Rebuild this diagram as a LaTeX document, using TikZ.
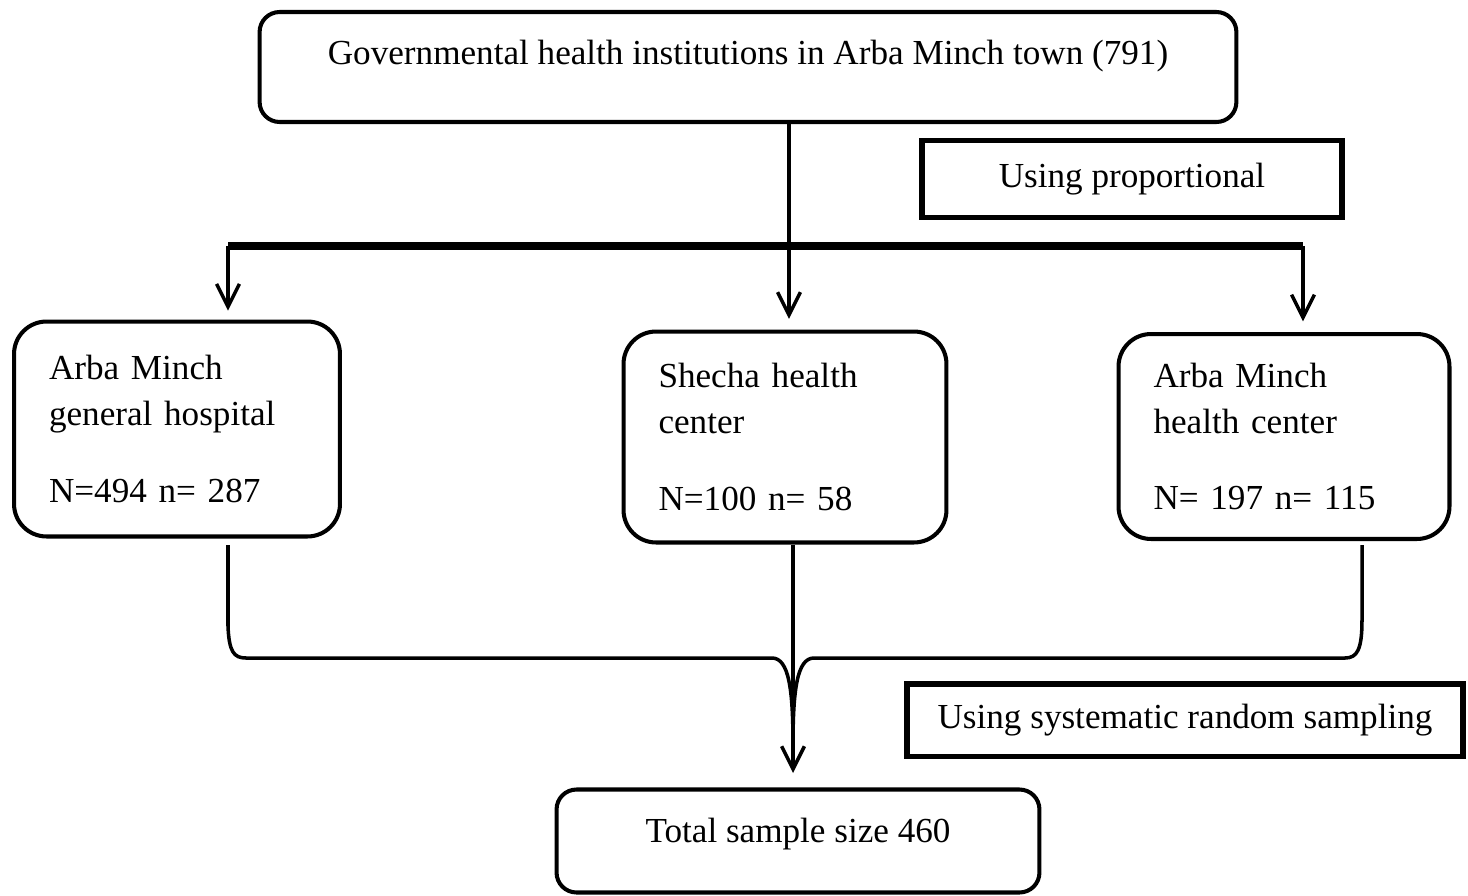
\documentclass[tikz,border=0pt]{standalone}
\usepackage{fontspec}
\setmainfont{Liberation Serif}
\usetikzlibrary{arrows.meta}
\tikzset{
    rbox/.style={draw, line width=2.3pt, rounded corners=#1, inner sep=0pt},
    rbox/.default=0.4cm,
    sbox/.style={draw, line width=3.4pt, inner sep=0pt},
    site/.style={rbox=0.65cm, align=left, inner xsep=0.7cm,
        text width=#1},
    flow/.style={line width=2pt},
    down/.style={flow, -{Straight Barb[length=13pt, width=13pt, line width=2pt]}}
}

\begin{document}
\begin{tikzpicture}[x=0.02cm, y=-0.02cm,
        every node/.append style={font=\fontsize{20}{26}\selectfont}]
        \useasboundingbox (0,0) rectangle (1468,896);
        % boxes
        \node[rbox, minimum width=19.54cm, minimum height=2.2cm,
            text height=0.47cm, text depth=0.56cm] (town) at (748,67)
            {Governmental health institutions in Arba Minch town (791)};
        \node[sbox, minimum width=8.4cm, minimum height=1.54cm] (prop) at (1132,179)
            {Using proportional};
        \node[site=5.12cm, minimum height=4.3cm] (hosp) at (177,429)
            {Arba Minch\\general hospital\\[0.62cm]N=494 n= 287};
        \node[site=5.06cm, minimum height=4.22cm] (shecha) at (785,437)
            {Shecha health\\center\\[0.62cm]N=100 n= 58};
        \node[site=5.22cm, minimum height=4.1cm, yshift=-0.05cm] (amhc) at (1284,434)
            {Arba Minch\\health center\\[0.62cm]N= 197 n= 115};
        \node[sbox, minimum width=11.12cm, minimum height=1.46cm] (sys) at (1185,720)
            {Using systematic random sampling};
        \node[rbox, minimum width=9.66cm, minimum height=2.06cm,
            text height=0.47cm, text depth=0.4cm] (total) at (798,841)
            {Total sample size 460};
        % split
        \coordinate (split) at (789,246);
        \coordinate (barL) at (228,246);
        \coordinate (barR) at (1303,246);
        \draw[line width=4pt] (barL) -- (barR);
        \draw[down, shorten >=6pt] (town.south -| split) -- (split |- shecha.north);
        \draw[down, shorten >=5pt] (barL) -- (barL |- hosp.north);
        \draw[down, shorten >=6pt] (barR) -- (barR |- amhc.north);
        % merge
        \coordinate (outL) at (228,545);
        \coordinate (outM) at (793,545);
        \coordinate (outR) at (1362,545);
        \coordinate (merge) at (793,773);
        \draw[flow] (outL) -- (228,626) .. controls (229,652) and (234,658) .. (246,658)
            -- (772,658) .. controls (789,658) and (793,690) .. (793,745);
        \draw[flow] (outR) -- (1362,620) .. controls (1362,650) and (1357,658) .. (1345,658)
            -- (814,658) .. controls (797,658) and (793,690) .. (793,745);
        \draw[down] (outM) -- (merge);
    \end{tikzpicture}
\end{document}
